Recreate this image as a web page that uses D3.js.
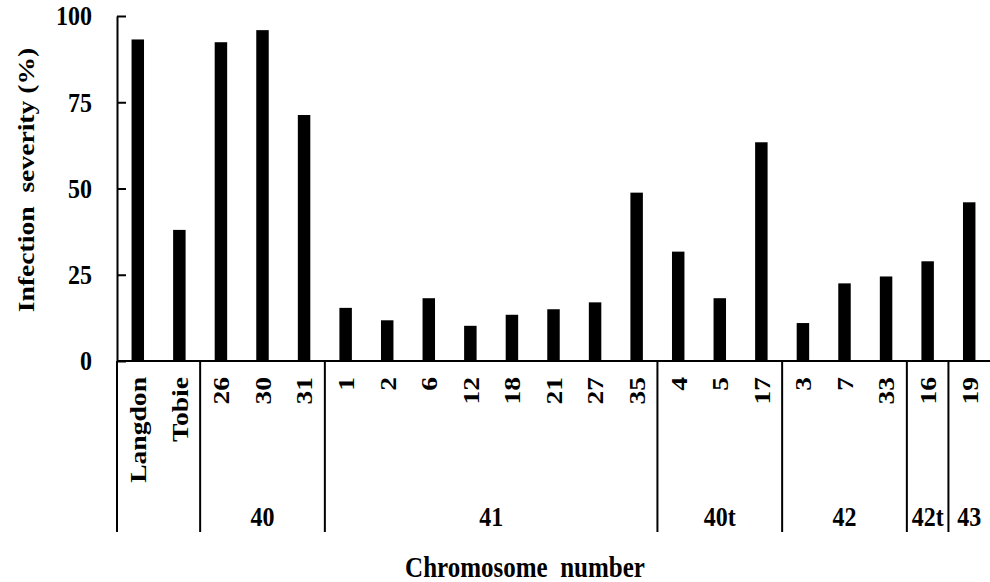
<!DOCTYPE html>
<html>
<head>
<meta charset="utf-8">
<script src="https://cdn.jsdelivr.net/npm/d3@7"></script>
<style>
  body { margin: 0; background: #fff; }
  svg text { font-family: "Liberation Serif", "Times New Roman", serif; font-weight: bold; fill: #000; }
</style>
</head>
<body>
<svg id="chart"></svg>
<script>
const categories = ["Langdon", "Tobie", "26", "30", "31", "1", "2", "6", "12", "18", "21", "27", "35", "4", "5", "17", "3", "7", "33", "16", "19"];
const severity = [93.2, 38.0, 92.4, 95.9, 71.3, 15.4, 11.8, 18.2, 10.2, 13.4, 15.0, 17.0, 48.8, 31.7, 18.2, 63.4, 11.0, 22.5, 24.5, 28.9, 46.0];
const groupNames = ["", "40", "41", "40t", "42", "42t", "43"];
const groupSizes = [2, 3, 8, 3, 3, 1, 1];
const yTicks = [0, 25, 50, 75, 100];

const width = 990, height = 582;
const plotLeft = 117, plotRight = 990, plotTop = 16, plotBottom = 361;
const stretch = 1.15; // picture is a bit taller than the text metrics

const svg = d3.select("#chart").attr("width", width).attr("height", height);

const x = d3.scaleBand()
    .domain(categories)
    .range([plotLeft, plotRight])
    .paddingInner(0.7)
    .paddingOuter(0.35);

const y = d3.scaleLinear().domain([0, 100]).range([plotBottom, plotTop]);

// bars
svg.append("g")
    .selectAll("rect")
    .data(categories)
    .join("rect")
    .attr("x", d => x(d))
    .attr("width", x.bandwidth())
    .attr("y", (d, i) => y(severity[i]))
    .attr("height", (d, i) => y(0) - y(severity[i]))
    .attr("fill", "#000");

// y axis, ticks pointing inward
const yAxis = svg.append("g")
    .attr("transform", `translate(${plotLeft},0)`)
    .call(d3.axisLeft(y).tickValues(yTicks).tickSizeInner(-9).tickSizeOuter(0).tickPadding(25));
yAxis.select(".domain").attr("stroke-width", 2);
yAxis.selectAll(".tick line").attr("stroke-width", 2);
yAxis.selectAll(".tick text")
    .attr("font-size", 24)
    .attr("font-family", null)
    .attr("transform", `scale(1,${stretch})`);

// baseline
svg.append("line")
    .attr("x1", plotLeft).attr("x2", plotRight)
    .attr("y1", y(0)).attr("y2", y(0))
    .attr("stroke", "#000").attr("stroke-width", 2);

// category labels (rotated)
svg.append("g")
    .selectAll("text")
    .data(categories)
    .join("text")
    .attr("transform", d => `translate(${x(d) + x.bandwidth() / 2},377) rotate(-90) scale(${stretch},1)`)
    .attr("text-anchor", "end")
    .attr("dy", "0.35em")
    .attr("font-size", 24)
    .text(d => d);

// group separators and labels
const half = x.step() * x.paddingInner() / 2;
let start = 0;
const groups = groupNames.map((name, i) => {
    const first = categories[start];
    const last = categories[start + groupSizes[i] - 1];
    start += groupSizes[i];
    return { name, x0: x(first) - half, x1: x(last) + x.bandwidth() + half };
});

svg.append("g")
    .selectAll("line")
    .data(groups)
    .join("line")
    .attr("x1", d => d.x0).attr("x2", d => d.x0)
    .attr("y1", y(0)).attr("y2", 532)
    .attr("stroke", "#000").attr("stroke-width", 2);

svg.append("g")
    .selectAll("text")
    .data(groups)
    .join("text")
    .attr("transform", d => `translate(${(d.x0 + d.x1) / 2},526) scale(1,${stretch})`)
    .attr("text-anchor", "middle")
    .attr("font-size", 24)
    .text(d => d.name);

// axis titles
svg.append("text")
    .attr("transform", `translate(525,577) scale(1,${stretch})`)
    .attr("text-anchor", "middle")
    .attr("font-size", 25)
    .style("white-space", "pre")
    .text("Chromosome  number");

svg.append("text")
    .attr("transform", `translate(34,180) rotate(-90) scale(${stretch},1)`)
    .attr("text-anchor", "middle")
    .attr("font-size", 24)
    .style("white-space", "pre")
    .text("Infection  severity (%)");
</script>
</body>
</html>
